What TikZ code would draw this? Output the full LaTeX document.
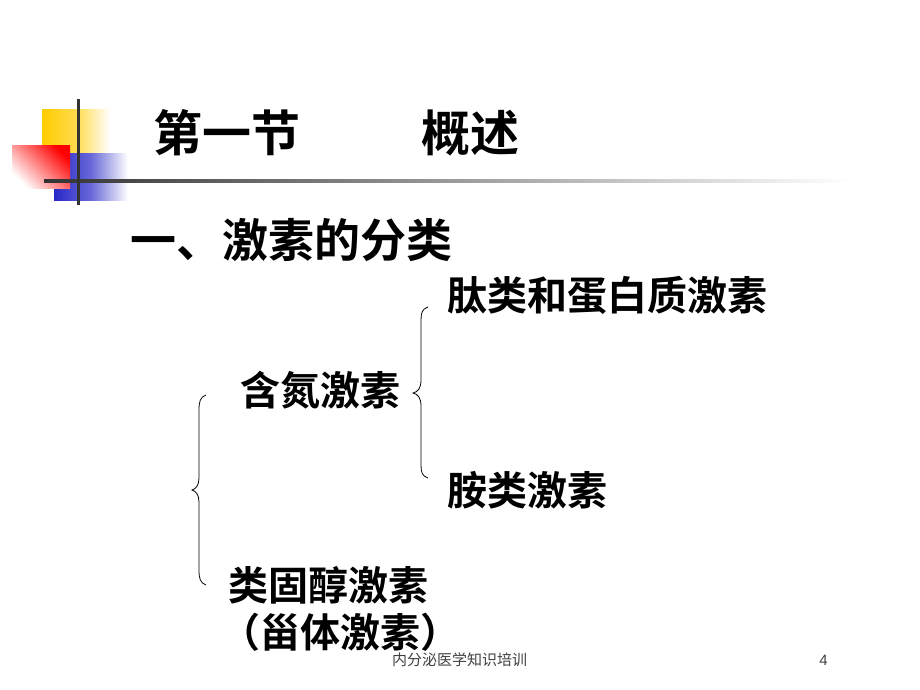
\documentclass[tikz,border=0pt]{standalone}
\usepackage{fontspec}
\newfontfamily\cjk{Noto Sans CJK SC}
\newfontfamily\cjkb{Noto Sans CJK SC Bold}
\setmainfont{Liberation Sans}
\begin{document}
\begin{tikzpicture}[x=1pt,y=-1pt,
  txt/.style={anchor=west,inner sep=0pt,font=\cjkb\fontsize{40}{40}\selectfont},
  brace/.style={draw=black,line width=0.8pt}]
\useasboundingbox[fill=white] (0,0) rectangle (920,690);
% decoration
\definecolor{deyellow}{RGB}{255,204,0}
\definecolor{dered}{RGB}{255,0,0}
\definecolor{deblue}{RGB}{40,40,200}
\shade[left color=deyellow,right color=white,middle color=deyellow!70!white] (42,110) rectangle (110,153);
\shade[left color=deblue,right color=white,middle color=deblue!70!white] (54,153) rectangle (128,200);
\shade[top color=dered,bottom color=white,shading angle=-45] (12,145) rectangle (70,188);
\shade[left color=black!80,right color=white] (44,179.5) rectangle (850,182.5);
\fill[black!80] (76.5,99) rectangle (79.5,205);
% texts
\node[txt,font=\cjkb\fontsize{49}{49}\selectfont] (title1) at (153,133) {第一节};
\node[txt,font=\cjkb\fontsize{49}{49}\selectfont] (title2) at (421,133) {概述};
\node[txt,font=\cjkb\fontsize{46}{46}\selectfont] (head) at (130,240) {一、激素的分类};
\node[txt] (pep) at (447,295) {肽类和蛋白质激素};
\node[txt] (nit) at (240,390) {含氮激素};
\node[txt] (ami) at (447,490) {胺类激素};
\node[txt] (ste) at (228,585) {类固醇激素};
\node[txt] (ste2) at (220,632) {（甾体激素）};
\node[anchor=west,inner sep=0pt,font=\cjk\fontsize{15}{15}\selectfont,text=black!75] (foot) at (392,660) {内分泌医学知识培训};
\node[anchor=east,inner sep=0pt,font=\fontsize{15}{15}\selectfont,text=black!75] (num) at (828,660) {4};
% braces
\path[brace] (206,395) .. controls (200,397) and (199,402) .. (199,410)
  -- (199,478) .. controls (199,485) and (196,489) .. (192,490)
  .. controls (196,491) and (199,495) .. (199,502)
  -- (199,570) .. controls (199,578) and (200,583) .. (206,585);
\path[brace] (428,307) .. controls (422,309) and (421,313) .. (421,320)
  -- (421,380) .. controls (421,388) and (418,392) .. (413,393)
  .. controls (418,394) and (421,398) .. (421,406)
  -- (421,465) .. controls (421,472) and (422,476) .. (428,478);
\end{tikzpicture}
\end{document}
